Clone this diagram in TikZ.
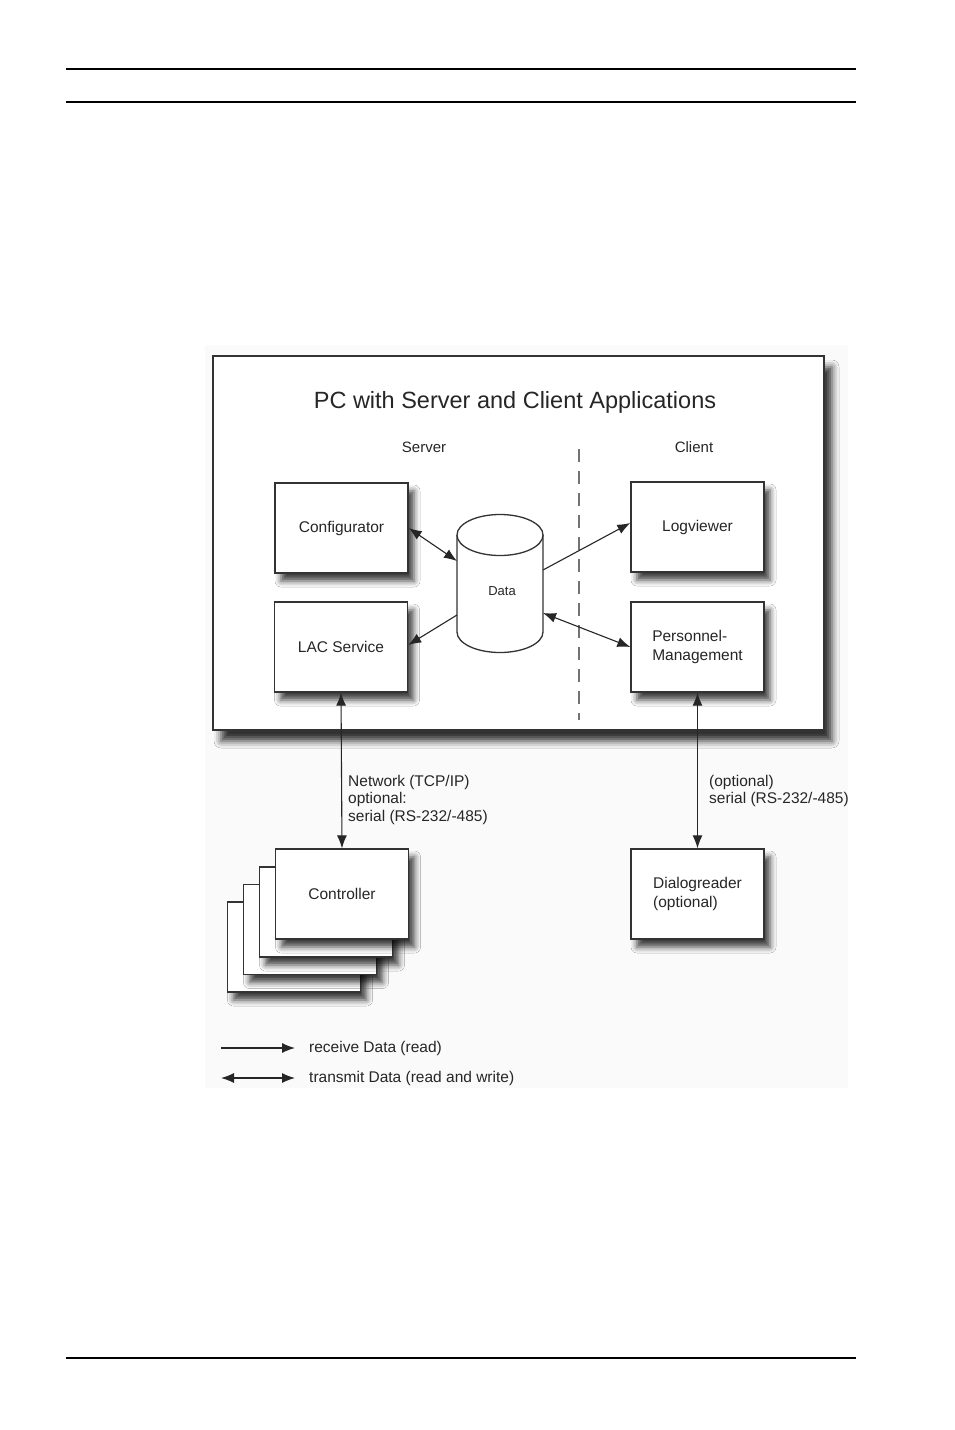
\documentclass[tikz,border=0pt]{standalone}
\usepackage{fontspec}
\setmainfont{Liberation Sans}
\usetikzlibrary{arrows.meta,positioning,shadows.blur}

\tikzset{
  box/.style={draw=black!80, line width=1.3pt, fill=white,
    minimum width=133, minimum height=90, text=black!85,
    font=\fontsize{15.5}{18.5}\selectfont,
    blur shadow={shadow xshift=6pt, shadow yshift=-8pt, shadow blur radius=6pt, shadow opacity=75}},
  conn/.style={line width=1.1pt, draw=black!85, -{Latex[length=13pt,width=10pt]}},
  biconn/.style={line width=1.1pt, draw=black!85, {Latex[length=13pt,width=10pt]}-{Latex[length=13pt,width=10pt]}},
  lbl/.style={font=\fontsize{15.5}{17.5}\selectfont, align=left, text=black!85, inner sep=0pt}
}

\begin{document}
\begin{tikzpicture}[x=1pt,y=-1pt]
        \useasboundingbox (0,0) rectangle (954,1430);

        % page rules
        \draw[line width=1.3pt] (66,69) -- (856,69);
        \draw[line width=1.3pt] (66,102) -- (856,102);
        \draw[line width=2.4pt] (66,1358) -- (856,1358);

        % picture area
        \fill[black!2] (205,345) rectangle (848,1088);

        % PC frame
        \draw[draw=black!80, line width=1.4pt, fill=white,
          blur shadow={shadow xshift=8pt, shadow yshift=-11pt, shadow blur radius=7pt, shadow opacity=80}]
          (213,356) rectangle (824,730);
        \node[font=\fontsize{23.5}{26}\selectfont, text=black!85] (title) at (515,402) {PC with Server and Client Applications};
        \node[font=\fontsize{15}{17}\selectfont, text=black!85] (server) at (424,447) {Server};
        \node[font=\fontsize{15}{17}\selectfont, text=black!85] (client) at (694,447) {Client};
        \draw[black!55, line width=1.5pt, dash pattern=on 13pt off 9pt] (579,449) -- (579,720);

        % server side
        \node[box] (config) at (341.5,528) {Configurator};
        \node[box] (lac) at (341,647) {LAC Service};

        % data store
        \draw[black!80, line width=1.3pt, fill=white] (457,535) -- (457,632)
          arc[start angle=180, end angle=360, x radius=43pt, y radius=20.5pt] -- (543,535);
        \draw[black!80, line width=1.3pt, fill=white] (500,535) ellipse [x radius=43pt, y radius=20.5pt];
        \node[font=\fontsize{13}{15}\selectfont, text=black!85] (data) at (502,591) {Data};
        \coordinate (dcfg) at (457,561);
        \coordinate (dlac) at (457,615);
        \coordinate (dlog) at (543,570);
        \coordinate (dpers) at (543,613);

        % client side
        \node[box] (logview) at (697.5,527) {Logviewer};
        \node[box, align=left] (personnel) at (697.5,647) {Personnel-\\Management};

        % field devices
        \node[box] (ctrl4) at (294,947) {};
        \node[box] (ctrl3) at (310,929.5) {};
        \node[box] (ctrl2) at (326,912) {};
        \node[box] (ctrl) at (342,894) {Controller};
        \node[box, align=left] (dialog) at (697.5,894) {Dialogreader\\(optional)};

        % connections
        \draw[biconn] (config.east) -- (dcfg);
        \draw[conn] (dlac) -- ([yshift=2pt]lac.east);
        \draw[conn] (dlog) -- ([yshift=4pt]logview.west);
        \draw[biconn] (dpers) -- (personnel.west);
        \draw[biconn] (lac.south) -- (ctrl.north);
        \draw[biconn] (personnel.south) -- (dialog.north);

        \node[lbl, anchor=north west] (netlbl) at (348,775) {Network (TCP/IP)\\optional:\\serial (RS-232/-485)};
        \node[lbl, anchor=north west] (serlbl) at (709,775) {(optional)\\serial (RS-232/-485)};

        % legend
        \coordinate (rda) at (221,1048);
        \coordinate (rdb) at (295,1048);
        \coordinate (tra) at (221,1078);
        \coordinate (trb) at (295,1078);
        \draw[conn] (rda) -- (rdb);
        \draw[biconn] (tra) -- (trb);
        \node[lbl, anchor=west] (rdlbl) at (309,1048) {receive Data (read)};
        \node[lbl, anchor=west] (trlbl) at (309,1078) {transmit Data (read and write)};
    \end{tikzpicture}
\end{document}
